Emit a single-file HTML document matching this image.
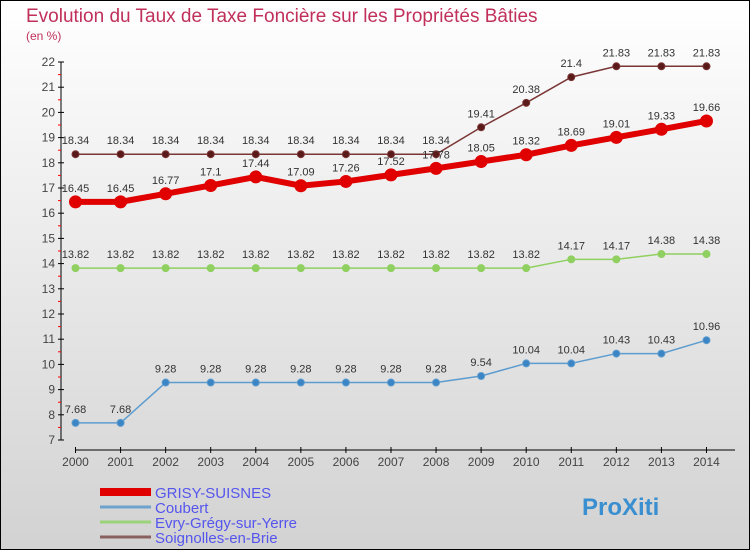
<!DOCTYPE html>
<html><head><meta charset="utf-8"><style>
body{margin:0}
#c{width:750px;height:550px;position:relative;box-sizing:border-box;border:1px solid #000;background:linear-gradient(#fff,#d2d2d2);font-family:"Liberation Sans",sans-serif;overflow:hidden}
</style></head><body>
<div id="c">
<svg id="s" width="750" height="550" style="position:absolute;left:-1px;top:-1px">
<text x="26" y="22" font-size="19" fill="#c0305a">Evolution du Taux de Taxe Foncière sur les Propriétés Bâties</text>
<text x="26" y="40" font-size="12" fill="#c0305a">(en %)</text>
</svg>
</div>
<script>
const years=[2000,2001,2002,2003,2004,2005,2006,2007,2008,2009,2010,2011,2012,2013,2014];
const grisy=[16.45,16.45,16.77,17.1,17.44,17.09,17.26,17.52,17.78,18.05,18.32,18.69,19.01,19.33,19.66];
const coubert=[7.68,7.68,9.28,9.28,9.28,9.28,9.28,9.28,9.28,9.54,10.04,10.04,10.43,10.43,10.96];
const evry=[13.82,13.82,13.82,13.82,13.82,13.82,13.82,13.82,13.82,13.82,13.82,14.17,14.17,14.38,14.38];
const soign=[18.34,18.34,18.34,18.34,18.34,18.34,18.34,18.34,18.34,19.41,20.38,21.4,21.83,21.83,21.83];
const yTicks=[7,8,9,10,11,12,13,14,15,16,17,18,19,20,21,22];
const names=["GRISY-SUISNES","Coubert","Evry-Grégy-sur-Yerre","Soignolles-en-Brie"];
const NS="http://www.w3.org/2000/svg";
const s=document.getElementById('s');
const X=i=>75.5+i*45.07;
const Y=v=>62+(22-v)*25.2;
function mk(t,a,p){const e=document.createElementNS(NS,t);for(const k in a)e.setAttribute(k,a[k]);(p||s).appendChild(e);return e;}
const ax=mk('g',{});


mk('line',{x1:61,y1:Y(22),x2:61,y2:Y(7),stroke:'#000'},ax);
mk('line',{x1:75,y1:450,x2:735,y2:450,stroke:'#000'},ax);
yTicks.forEach(v=>{
 mk('line',{x1:58,x2:64,y1:Y(v),y2:Y(v),stroke:'#000'},ax);
 if(v<22)mk('line',{x1:58,x2:61,y1:Y(v+0.5),y2:Y(v+0.5),stroke:'#f00'},ax);
 const t=mk('text',{x:55,y:Y(v)+4,'font-size':12,'text-anchor':'end',fill:'#444'},ax);t.textContent=v;
 
 
});
years.forEach((y,i)=>{
 mk('line',{x1:X(i),x2:X(i),y1:447,y2:453,stroke:'#000'},ax);
 const t=mk('text',{x:X(i),y:466,'font-size':12,'text-anchor':'middle',fill:'#444'},ax);t.textContent=y;
 
 
});
function series(data,color,w,r,dot,name){
 const g=mk('g',{});
 
 
 mk('polyline',{points:data.map((v,i)=>X(i)+','+Y(v)).join(' '),fill:'none',stroke:color,'stroke-width':w},g);
 data.forEach((v,i)=>{
  const c=mk('circle',{cx:X(i),cy:Y(v),r:r,fill:dot,stroke:color,'stroke-width':1},g);
  
  
  const t=mk('text',{x:X(i),y:Y(v)-10,'font-size':11,'text-anchor':'middle',fill:'#333'},g);
  t.textContent=v;
  
  
 });
}
series(soign,'#7a3535',1.5,3.5,'#5a1a1a','series-soignolles');
series(evry,'#8fd060',1.5,3.5,'#8fd060','series-evry');
series(coubert,'#5d9ccf',1.5,3.5,'#3b85c4','series-coubert');
series(grisy,'#e00000',6,6,'#e00000','series-grisy');
const lc=['#e00000','#6fa3cf','#9bd37a','#8a5f5f'],lw=[8,3,3,3];
names.forEach((n,i)=>{
 const y=492+i*15;
 const l=mk('line',{x1:100,x2:151,y1:y,y2:y,stroke:lc[i],'stroke-width':lw[i]});
 
 
 const t=mk('text',{x:155,y:y+6,'font-size':15,fill:'#5555ee'});t.textContent=n;
 
 
});
const b=mk('text',{x:582,y:515,'font-size':24,'font-weight':'bold',fill:'#3a8fd0'});
b.textContent='ProXiti';


</script>
</body></html>
